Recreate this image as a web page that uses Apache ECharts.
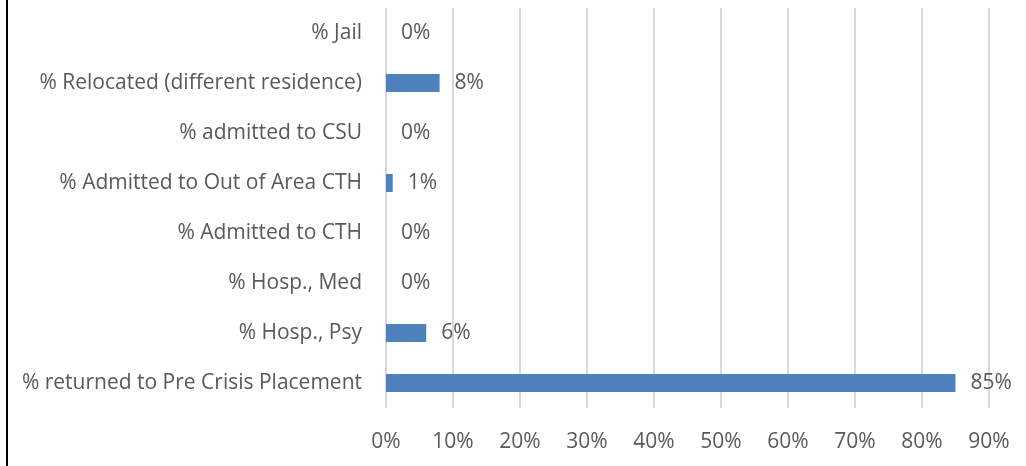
<!DOCTYPE html>
<html>
<head>
<meta charset="utf-8">
<style>
  html, body { margin: 0; padding: 0; background: #fff; }
  #chart { width: 1026px; height: 466px; }
</style>
<script src="https://cdn.jsdelivr.net/npm/echarts@6/dist/echarts.min.js"></script>
</head>
<body>
<div id="chart"></div>
<script>
// Outcome categories, listed top to bottom
const categories = [
  '% Jail',
  '% Relocated (different residence)',
  '% admitted to CSU',
  '% Admitted to Out of Area CTH',
  '% Admitted to CTH',
  '% Hosp., Med',
  '% Hosp., Psy',
  '% returned to Pre Crisis Placement'
];
// Share of outcomes, in percent
const percentValues = [0, 8, 0, 1, 0, 0, 6, 85];
// Value axis range and step, in percent
const axisMin = 0;
const axisMax = 90;
const axisStep = 10;

const textColor = '#595959';
const fontFamily = '"Open Sans", Lato, sans-serif';
const fontSize = 21;

const chart = echarts.init(document.getElementById('chart'), null, { renderer: 'canvas' });
chart.setOption({
  animation: false,
  backgroundColor: '#ffffff',
  grid: { left: 386, right: 37, top: 8, bottom: 58, containLabel: false },
  xAxis: {
    type: 'value',
    min: axisMin,
    max: axisMax,
    interval: axisStep,
    axisLine: { show: false },
    axisTick: { show: false },
    splitLine: { show: true, lineStyle: { color: '#d9d9d9', width: 2 } },
    axisLabel: {
      color: textColor, fontFamily: fontFamily, fontSize: fontSize,
      margin: 24,
      formatter: '{value}%'
    }
  },
  yAxis: {
    type: 'category',
    inverse: true,
    data: categories,
    axisLine: { show: false },
    axisTick: { show: false },
    splitLine: { show: false },
    axisLabel: {
      color: textColor, fontFamily: fontFamily, fontSize: fontSize,
      margin: 24,
      lineHeight: 26,
      padding: [4, 0, 0, 0]
    }
  },
  series: [{
    type: 'bar',
    data: percentValues,
    barWidth: 18,
    itemStyle: { color: '#4f81bd' },
    label: {
      show: true,
      position: 'right',
      distance: 15,
      lineHeight: 26,
      padding: [4, 0, 0, 0],
      color: textColor, fontFamily: fontFamily, fontSize: fontSize,
      formatter: p => p.value + '%'
    }
  }],
  graphic: [{
    type: 'line',
    shape: { x1: 7, y1: 0, x2: 7, y2: 466 },
    style: { stroke: '#000000', lineWidth: 2 }
  }]
});
</script>
</body>
</html>
